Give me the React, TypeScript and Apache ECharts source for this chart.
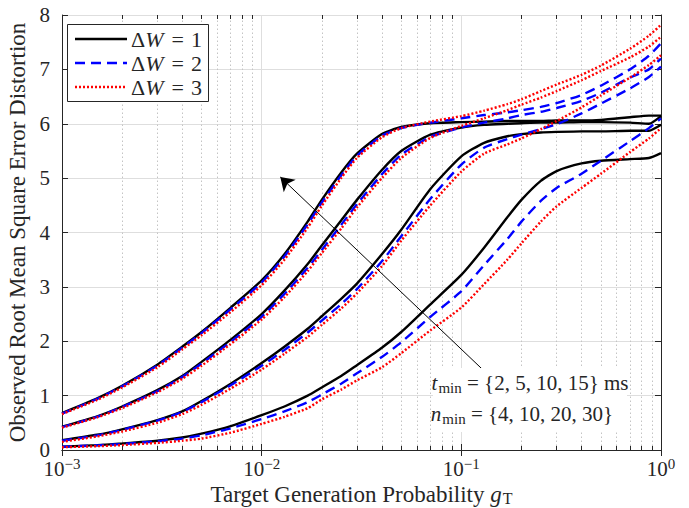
import React, { useEffect, useRef } from "react";
import * as echarts from "echarts";

// Target generation probability g_T (x axis, log scale)
const gT = [0.001, 0.0015, 0.002, 0.003, 0.004, 0.005, 0.007, 0.01, 0.013, 0.017, 0.02, 0.025, 0.03, 0.04, 0.05, 0.07, 0.1, 0.13, 0.17, 0.2, 0.25, 0.3, 0.4, 0.5, 0.7, 0.87, 1.0];

// n_min = 4 (t_min = 2 ms)
const n4_dW1 = [0.68, 0.95, 1.18, 1.57, 1.9, 2.17, 2.62, 3.12, 3.6, 4.2, 4.6, 5.1, 5.45, 5.81, 5.94, 6.01, 6.03, 6.04, 6.05, 6.05, 6.05, 6.06, 6.06, 6.07, 6.12, 6.15, 6.15];
const n4_dW2 = [0.67, 0.94, 1.17, 1.55, 1.88, 2.15, 2.59, 3.08, 3.56, 4.15, 4.55, 5.05, 5.41, 5.78, 5.92, 6.02, 6.1, 6.16, 6.21, 6.25, 6.31, 6.38, 6.53, 6.7, 7.0, 7.25, 7.48];
const n4_dW3 = [0.66, 0.92, 1.15, 1.52, 1.85, 2.11, 2.54, 3.03, 3.5, 4.09, 4.49, 5.0, 5.37, 5.75, 5.92, 6.04, 6.14, 6.24, 6.36, 6.45, 6.6, 6.72, 6.9, 7.07, 7.38, 7.62, 7.82];
// n_min = 10 (t_min = 5 ms)
const n10_dW1 = [0.43, 0.62, 0.8, 1.1, 1.36, 1.62, 2.03, 2.5, 2.93, 3.42, 3.76, 4.22, 4.6, 5.15, 5.5, 5.8, 5.93, 5.98, 6.0, 6.01, 6.02, 6.02, 6.03, 6.03, 6.02, 6.0, 6.14];
const n10_dW2 = [0.42, 0.61, 0.79, 1.08, 1.34, 1.59, 1.99, 2.45, 2.87, 3.35, 3.68, 4.14, 4.52, 5.07, 5.43, 5.76, 5.93, 6.02, 6.1, 6.16, 6.22, 6.29, 6.42, 6.57, 6.85, 7.0, 7.2];
const n10_dW3 = [0.41, 0.6, 0.77, 1.06, 1.31, 1.55, 1.95, 2.4, 2.81, 3.29, 3.62, 4.07, 4.46, 5.0, 5.37, 5.74, 5.96, 6.1, 6.25, 6.35, 6.48, 6.6, 6.8, 6.97, 7.22, 7.42, 7.6];
// n_min = 20 (t_min = 10 ms)
const n20_dW1 = [0.18, 0.28, 0.38, 0.55, 0.71, 0.9, 1.22, 1.6, 1.9, 2.23, 2.46, 2.78, 3.06, 3.6, 4.05, 4.8, 5.4, 5.65, 5.77, 5.81, 5.84, 5.85, 5.86, 5.86, 5.87, 5.87, 5.98];
const n20_dW2 = [0.17, 0.27, 0.37, 0.54, 0.7, 0.88, 1.19, 1.55, 1.84, 2.16, 2.38, 2.68, 2.96, 3.47, 3.93, 4.62, 5.25, 5.56, 5.72, 5.8, 5.9, 5.99, 6.19, 6.37, 6.65, 6.86, 7.05];
const n20_dW3 = [0.15, 0.25, 0.34, 0.5, 0.66, 0.83, 1.13, 1.48, 1.77, 2.08, 2.3, 2.6, 2.88, 3.38, 3.85, 4.5, 5.12, 5.45, 5.62, 5.73, 5.9, 6.05, 6.3, 6.52, 6.85, 7.08, 7.26];
// n_min = 30 (t_min = 15 ms)
const n30_dW1 = [0.06, 0.09, 0.12, 0.17, 0.23, 0.3, 0.44, 0.64, 0.8, 1.0, 1.15, 1.36, 1.56, 1.88, 2.17, 2.68, 3.22, 3.72, 4.28, 4.6, 4.95, 5.13, 5.27, 5.32, 5.35, 5.37, 5.46];
const n30_dW2 = [0.06, 0.085, 0.11, 0.16, 0.21, 0.27, 0.4, 0.57, 0.71, 0.88, 1.02, 1.22, 1.41, 1.71, 1.98, 2.45, 2.92, 3.4, 3.88, 4.2, 4.58, 4.82, 5.08, 5.32, 5.68, 5.92, 6.1];
const n30_dW3 = [0.05, 0.07, 0.09, 0.13, 0.17, 0.21, 0.32, 0.48, 0.61, 0.77, 0.93, 1.11, 1.28, 1.52, 1.78, 2.2, 2.62, 3.05, 3.5, 3.8, 4.2, 4.48, 4.82, 5.08, 5.48, 5.73, 5.92];

const legendValues = ["1", "2", "3"];
const minorGT = [0.002, 0.003, 0.004, 0.005, 0.006, 0.007, 0.008, 0.009, 0.02, 0.03, 0.04, 0.05, 0.06, 0.07, 0.08, 0.09, 0.2, 0.3, 0.4, 0.5, 0.6, 0.7, 0.8, 0.9];
const arrowFrom = [0.127, 1.49];
const arrowTo = [0.0124, 5.02];
const noteT = "{i|t}{sb|min} = {2, 5, 10, 15} ms";
const noteN = "{i|n}{sb|min} = {4, 10, 20, 30}";

const FONT = "'Liberation Serif', 'Times New Roman', serif";
const AX = "#262626";

const groups = [
  [n4_dW1, n4_dW2, n4_dW3],
  [n10_dW1, n10_dW2, n10_dW3],
  [n20_dW1, n20_dW2, n20_dW3],
  [n30_dW1, n30_dW2, n30_dW3],
];
const lineStyles = [
  { color: "#000000", type: "solid" as any, dash: null as any },
  { color: "#0000ff", type: [10, 6] as any, dash: [10, 6] },
  { color: "#ff0000", type: [2, 2] as any, dash: [2, 2] },
];

export default function App() {
  const ref = useRef<HTMLDivElement>(null);
  useEffect(() => {
    const chart = echarts.init(ref.current!, null, { renderer: "svg" });
    const series: any[] = [];
    // minor dotted grid
    series.push({
      type: "line",
      name: "_minorgrid",
      data: [],
      silent: true,
      markLine: {
        silent: true,
        animation: false,
        precision: 10,
        symbol: ["none", "none"],
        label: { show: false },
        z: 1,
        lineStyle: { color: "#c4c4c4", type: [1.5, 2.5], width: 1 },
        emphasis: { disabled: true },
        data: minorGT.map((v) => ({ xAxis: v })),
      },
    });
    // minor ticks (bottom & top)
    const tl = 4 / 54.375;
    series.push({
      type: "line",
      name: "_minorticks",
      data: [],
      silent: true,
      markLine: {
        silent: true,
        animation: false,
        precision: 10,
        symbol: ["none", "none"],
        label: { show: false },
        z: 6,
        lineStyle: { color: AX, type: "solid", width: 1 },
        emphasis: { disabled: true },
        data: minorGT.flatMap((v) => [
          [{ coord: [v, 0] }, { coord: [v, tl] }],
          [{ coord: [v, 8] }, { coord: [v, 8 - tl] }],
        ]),
      },
    });
    groups.forEach((g) => {
      g.forEach((ys, k) => {
        series.push({
          type: "line",
          name: "ΔW = " + legendValues[k],
          data: gT.map((x, i) => [x, ys[i]]),
          showSymbol: false,
          symbol: "none",
          smooth: 0.2,
          itemStyle: { color: lineStyles[k].color },
          lineStyle: { width: 2.4, color: lineStyles[k].color, type: lineStyles[k].type, cap: "butt" },
          emphasis: { disabled: true },
          z: 3,
        });
      });
    });
    // arrow annotation
    series.push({
      type: "line",
      name: "_arrow",
      data: [],
      silent: true,
      markLine: {
        silent: true,
        animation: false,
        precision: 10,
        symbol: ["none", "arrow"],
        symbolSize: 13,
        label: { show: false },
        z: 10,
        lineStyle: { color: "#000", type: "solid", width: 1 },
        emphasis: { disabled: true },
        data: [[{ coord: arrowFrom }, { coord: arrowTo }]],
      },
    });

    const supFmt = (v: number) => {
      const e = Math.round(Math.log10(v));
      return `{b|10}{s|${e < 0 ? "\u2212" + -e : e}}`;
    };

    // legend drawn as graphic elements
    const legendRowsY = [39, 63, 87];
    const legendGraphics: any[] = [
      {
        type: "rect",
        z: 60,
        shape: { x: 67.5, y: 24.5, width: 141, height: 77 },
        style: { fill: "#ffffff", stroke: AX, lineWidth: 1 },
      },
    ];
    legendValues.forEach((v, k) => {
      legendGraphics.push({
        type: "line",
        z: 61,
        shape: { x1: 75, y1: legendRowsY[k], x2: 127, y2: legendRowsY[k] },
        style: {
          stroke: lineStyles[k].color,
          lineWidth: 2.4,
          lineDash: lineStyles[k].dash,
          lineCap: "butt",
        },
      });
      legendGraphics.push({
        type: "text",
        z: 61,
        x: 131,
        y: legendRowsY[k],
        style: {
          text: `{d|Δ}{w|W}{e|=}{d|${v}}`,
          align: "left",
          verticalAlign: "middle",
          fontFamily: FONT,
          fontSize: 22,
          fill: AX,
          rich: {
            d: { fontFamily: FONT, fontSize: 22, fill: AX },
            w: { fontFamily: FONT, fontSize: 22, fill: AX, fontStyle: "italic", padding: [0, 1, 0, 0] },
            e: { fontFamily: FONT, fontSize: 22, fill: AX, padding: [0, 7, 0, 7] },
          },
        },
      });
    });

    const option: any = {
      animation: false,
      backgroundColor: "#ffffff",
      grid: { left: 62, top: 15, right: 28, bottom: 58, containLabel: false, outerBoundsMode: "none" },
      xAxis: [
        {
          type: "log",
          logBase: 10,
          min: 0.001,
          max: 1,
          position: "bottom",
          axisLine: { show: true, lineStyle: { color: AX, width: 1 } },
          axisTick: { show: true, inside: true, length: 6, lineStyle: { color: AX, width: 1 } },
          splitLine: { show: true, lineStyle: { color: "#dedede", width: 1 } },
          axisLabel: {
            margin: 8,
            formatter: supFmt,
            rich: {
              b: { fontFamily: FONT, fontSize: 21, color: AX, lineHeight: 21 },
              s: { fontFamily: FONT, fontSize: 15, color: AX, lineHeight: 15, padding: [0, 0, 10, 0] },
            },
          },
          name: "Target Generation Probability {g|g}{T|T}",
          nameLocation: "middle",
          nameGap: 33,
          nameMoveOverlap: false,
          nameTextStyle: {
            fontFamily: FONT,
            fontSize: 23,
            color: AX,
            lineHeight: 22,
            rich: {
              g: { fontFamily: FONT, fontSize: 23, color: AX, fontStyle: "italic", lineHeight: 22 },
              T: { fontFamily: FONT, fontSize: 16, color: AX, lineHeight: 14, padding: [8, 0, 0, 1] },
            },
          },
        },
        {
          type: "log",
          logBase: 10,
          min: 0.001,
          max: 1,
          position: "top",
          axisLine: { show: true, lineStyle: { color: AX, width: 1 } },
          axisTick: { show: true, inside: true, length: 6, lineStyle: { color: AX, width: 1 } },
          splitLine: { show: false },
          axisLabel: { show: false },
        },
      ],
      yAxis: [
        {
          type: "value",
          min: 0,
          max: 8,
          interval: 1,
          position: "left",
          axisLine: { show: true, lineStyle: { color: AX, width: 1 } },
          axisTick: { show: true, inside: true, length: 6, lineStyle: { color: AX, width: 1 } },
          splitLine: { show: true, lineStyle: { color: "#dedede", width: 1 } },
          axisLabel: { margin: 12, fontFamily: FONT, fontSize: 21, color: AX, lineHeight: 16 },
          name: "Observed Root Mean Square Error Distortion",
          nameLocation: "middle",
          nameRotate: 90,
          nameGap: 29,
          nameTextStyle: { fontFamily: FONT, fontSize: 23, color: AX },
        },
        {
          type: "value",
          min: 0,
          max: 8,
          interval: 1,
          position: "right",
          axisLine: { show: true, lineStyle: { color: AX, width: 1 } },
          axisTick: { show: true, inside: true, length: 6, lineStyle: { color: AX, width: 1 } },
          splitLine: { show: false },
          axisLabel: { show: false },
        },
      ],
      series,
      graphic: [
        ...legendGraphics,
        {
          type: "rect",
          z: 50,
          shape: { x: 433, y: 368, width: 194, height: 64 },
          style: { fill: "#ffffff" },
        },
        {
          type: "text",
          z: 51,
          x: 530,
          y: 383,
          style: {
            text: noteT,
            align: "center",
            verticalAlign: "middle",
            fontFamily: FONT,
            fontSize: 21,
            fill: AX,
            rich: {
              i: { fontFamily: FONT, fontSize: 21, fill: AX, fontStyle: "italic" },
              sb: { fontFamily: FONT, fontSize: 15, fill: AX, padding: [9, 0, 0, 1] },
            },
          },
        },
        {
          type: "text",
          z: 51,
          x: 522,
          y: 414,
          style: {
            text: noteN,
            align: "center",
            verticalAlign: "middle",
            fontFamily: FONT,
            fontSize: 21,
            fill: AX,
            rich: {
              i: { fontFamily: FONT, fontSize: 21, fill: AX, fontStyle: "italic" },
              sb: { fontFamily: FONT, fontSize: 15, fill: AX, padding: [9, 0, 0, 1] },
            },
          },
        },
      ],
    };
    chart.setOption(option);
    return () => chart.dispose();
  }, []);
  return (
    <div
      ref={ref}
      style={{ position: "absolute", left: 0, top: 0, width: 689, height: 508, background: "#fff" }}
    />
  );
}
